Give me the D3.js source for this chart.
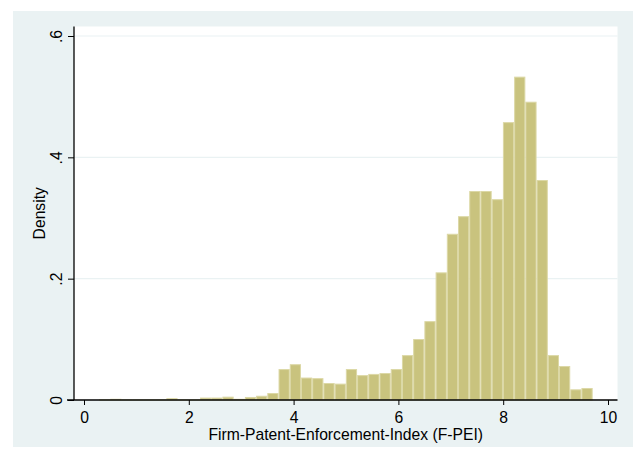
<!DOCTYPE html>
<html>
<head>
<meta charset="utf-8">
<script src="https://cdn.jsdelivr.net/npm/d3@7"></script>
<style>
  html, body { margin: 0; padding: 0; background: #ffffff; }
  svg { display: block; }
  text { font-family: "Liberation Sans", Arial, Helvetica, sans-serif; fill: #000; }
</style>
</head>
<body>
<svg id="chart" width="633" height="457"></svg>
<script>
// ---- data ----
const binStart = 0.287;      // lower edge of first bin
const binWidth = 0.2141;     // histogram bin width
const density = [
  0.001, 0.002, 0.001, 0.001, 0.001, 0.001, 0.003, 0.001, 0.001, 0.004,
  0.004, 0.0055, 0.002, 0.005, 0.007, 0.0115, 0.051, 0.059, 0.037, 0.036,
  0.028, 0.027, 0.051, 0.041, 0.043, 0.0445, 0.051, 0.074, 0.1005, 0.130,
  0.2104, 0.274, 0.303, 0.3445, 0.3445, 0.331, 0.458, 0.533, 0.4917, 0.3626,
  0.074, 0.056, 0.0176, 0.0198
];
const xTicks = [0, 2, 4, 6, 8, 10];
const xTickLabels = ["0", "2", "4", "6", "8", "10"];
const yTicks = [0, 0.2, 0.4, 0.6];
const yTickLabels = ["0", ".2", ".4", ".6"];
const xTitle = "Firm-Patent-Enforcement-Index (F-PEI)";
const yTitle = "Density";

// ---- layout ----
const svg = d3.select("#chart");
const plot = { left: 74, right: 617.5, top: 26.5, bottom: 400 };
const fs = "15.7px";

svg.append("rect").attr("x", 13).attr("y", 11).attr("width", 620).attr("height", 436)
  .attr("fill", "#eaf2f3");
svg.append("rect").attr("x", plot.left).attr("y", plot.top)
  .attr("width", plot.right - plot.left).attr("height", plot.bottom - plot.top)
  .attr("fill", "#ffffff");

const x = d3.scaleLinear().domain([0, 10]).range([84, 608]);
const y = d3.scaleLinear().domain([0, 0.6]).range([400, 36]);

// gridlines
svg.append("g").selectAll("line").data(yTicks.filter(d => d > 0)).join("line")
  .attr("x1", plot.left).attr("x2", plot.right)
  .attr("y1", d => y(d)).attr("y2", d => y(d))
  .attr("stroke", "#eaf2f3").attr("stroke-width", 1.2);

// bars
const bins = density.map((d, i) => ({ x0: binStart + i * binWidth, x1: binStart + (i + 1) * binWidth, v: d }));
svg.append("g").selectAll("rect").data(bins).join("rect")
  .attr("x", d => x(d.x0) + 0.5)
  .attr("width", d => x(d.x1) - x(d.x0) - 1)
  .attr("y", d => y(d.v) + 0.5)
  .attr("height", d => Math.max(0, y(0) - y(d.v) - 0.5))
  .attr("fill", "#c9c37e")
  .attr("stroke", "#dcd8a6")
  .attr("stroke-width", 1);

// x axis
const xAxis = d3.axisBottom(x).tickValues(xTicks)
  .tickFormat((d, i) => xTickLabels[i]).tickSize(5).tickSizeOuter(0);
const gx = svg.append("g").attr("transform", `translate(0,${plot.bottom})`).call(xAxis);
gx.select(".domain").remove();
gx.append("line").attr("x1", plot.left - 7).attr("x2", plot.right).attr("y1", 0).attr("y2", 0)
  .attr("stroke", "#000").attr("stroke-width", 1.3);
gx.selectAll(".tick line").attr("stroke", "#000").attr("stroke-width", 1);
gx.selectAll(".tick text").attr("font-size", fs).attr("y", 23.3).attr("dy", null)
  .attr("font-family", "'Liberation Sans', Arial, sans-serif").attr("fill", "#000");

// y axis
const yAxis = d3.axisLeft(y).tickValues(yTicks)
  .tickFormat((d, i) => yTickLabels[i]).tickSize(6).tickSizeOuter(0);
const gy = svg.append("g").attr("transform", `translate(${plot.left},0)`).call(yAxis);
gy.select(".domain").remove();
gy.append("line").attr("x1", 0).attr("x2", 0).attr("y1", plot.top).attr("y2", plot.bottom)
  .attr("stroke", "#000").attr("stroke-width", 1.3);
gy.selectAll(".tick line").attr("stroke", "#000").attr("stroke-width", 1);
gy.selectAll(".tick text")
  .attr("font-size", fs)
  .attr("font-family", "'Liberation Sans', Arial, sans-serif").attr("fill", "#000")
  .attr("x", null).attr("dy", null)
  .attr("text-anchor", "middle")
  .attr("transform", "translate(-12,0) rotate(-90)")
  .attr("y", 0);

// titles
svg.append("text").attr("x", (plot.left + plot.right) / 2).attr("y", 440)
  .attr("text-anchor", "middle").attr("font-size", fs).text(xTitle);
svg.append("text")
  .attr("transform", `translate(45,${(plot.top + plot.bottom) / 2}) rotate(-90)`)
  .attr("text-anchor", "middle").attr("font-size", fs).text(yTitle);
</script>
</body>
</html>
